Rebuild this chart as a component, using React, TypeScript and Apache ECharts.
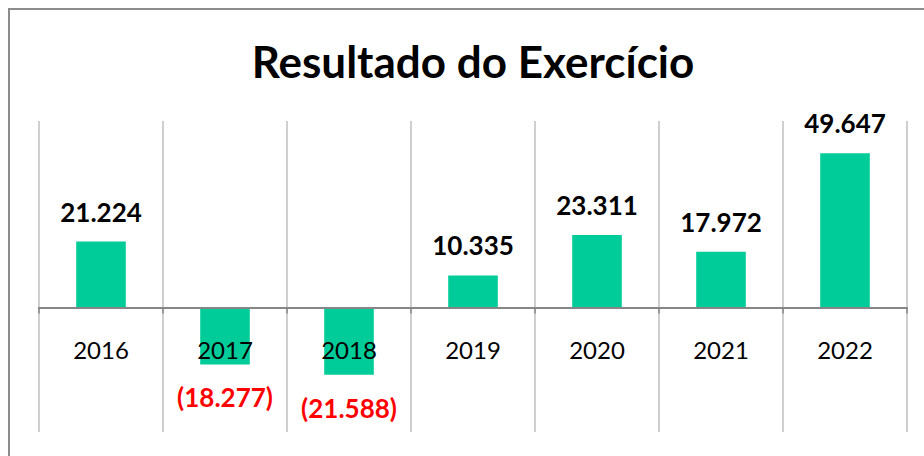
import React, { useEffect, useRef } from "react";
import * as echarts from "echarts";

const title = "Resultado do Exercício";
const categories = ["2016", "2017", "2018", "2019", "2020", "2021", "2022"];
const values = [21224, -18277, -21588, 10335, 23311, 17972, 49647];
const yMin = -40000;
const yMax = 60000;

const FONT = "Lato";

function fmt(v: number): string {
  const s = Math.abs(v).toString().replace(/\B(?=(\d{3})+(?!\d))/g, ".");
  return v < 0 ? "(" + s + ")" : s;
}

export default function App() {
  const ref = useRef<HTMLDivElement>(null);
  useEffect(() => {
    if (!ref.current) return;
    const chart = echarts.init(ref.current, null, { renderer: "svg" });
    const gridTop = 121;
    const gridBottom = 24;
    const gridH = 456 - gridTop - gridBottom;
    const zeroOffset = (gridH * (0 - yMin)) / (yMax - yMin);
    chart.setOption({
      animation: false,
      backgroundColor: "#ffffff",
      graphic: [
        {
          type: "rect",
          shape: { x: 9, y: 9, width: 1000, height: 1000 },
          style: { fill: "none", stroke: "#8c8c8c", lineWidth: 2 },
          silent: true,
        },
        {
          type: "text",
          x: 473,
          y: 61,
          style: {
            text: title,
            fontFamily: FONT,
            fontWeight: "bold",
            fontSize: 44,
            fill: "#000000",
            align: "center",
            verticalAlign: "middle",
          },
        },
      ],
      grid: {
        left: 39,
        right: 17,
        top: gridTop,
        bottom: gridBottom,
        containLabel: false,
        outerBoundsMode: "none",
      },
      xAxis: {
        type: "category",
        data: categories,
        boundaryGap: true,
        position: "bottom",
        offset: -zeroOffset,
        axisLine: { onZero: false, lineStyle: { color: "#868686", width: 2 } },
        axisTick: { show: true, length: 6, lineStyle: { color: "#868686", width: 1.5 } },
        axisLabel: {
          fontFamily: FONT,
          fontSize: 24,
          color: "#000000",
          margin: 30,
        },
        splitLine: { show: true, lineStyle: { color: "#bfbfbf", width: 1.5 } },
        z: 3,
      },
      yAxis: {
        type: "value",
        min: yMin,
        max: yMax,
        show: false,
        splitLine: { show: false },
      },
      series: [
        {
          type: "bar",
          barWidth: "40%",
          itemStyle: { color: "#00CC99" },
          z: 2,
          data: values.map((v) => ({
            value: v,
            label: {
              show: true,
              position: v < 0 ? "bottom" : "top",
              distance: v < 0 ? 20 : 17,
              formatter: () => fmt(v),
              fontFamily: FONT,
              fontWeight: "bold",
              fontSize: 26,
              color: v < 0 ? "#ff0000" : "#000000",
            },
          })),
        },
      ],
    });
    return () => chart.dispose();
  }, []);
  return (
    <div
      ref={ref}
      style={{ position: "fixed", left: 0, top: 0, width: 924, height: 456 }}
    />
  );
}
